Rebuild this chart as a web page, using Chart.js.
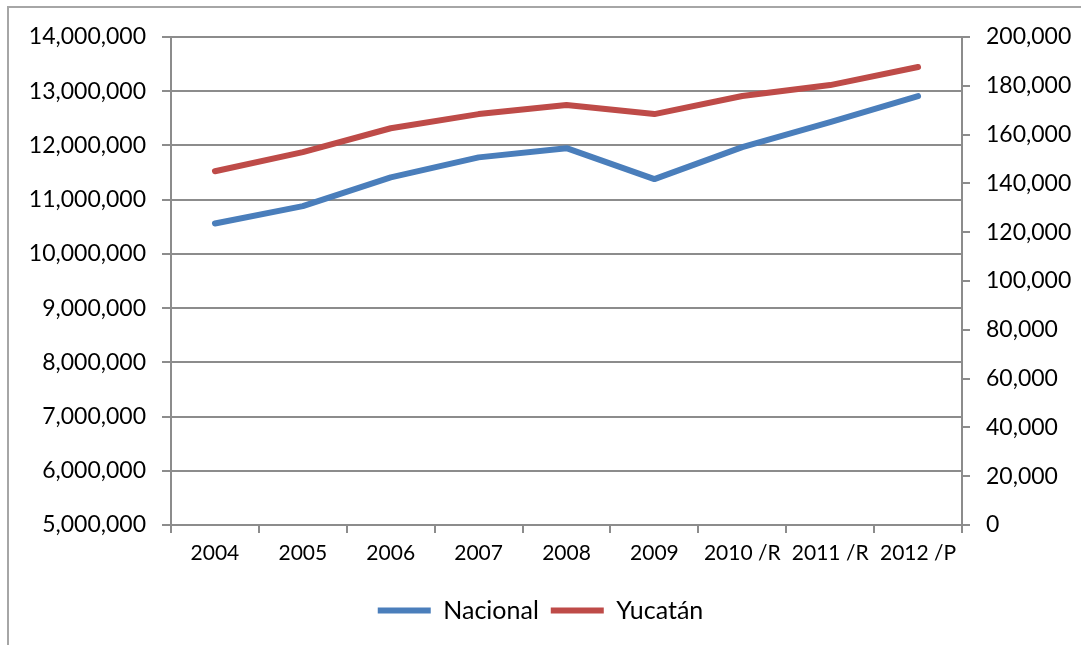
<!DOCTYPE html>
<html>
<head>
<meta charset="utf-8">
<script src="https://cdn.jsdelivr.net/npm/chart.js@4.4.1/dist/chart.umd.min.js"></script>
<style>
  html, body { margin: 0; padding: 0; background: #fff; overflow: hidden; }
  #frame { position: absolute; left: 7px; top: 6px; width: 1100px; height: 660px; border: 2px solid #a6a6a6; box-sizing: border-box; }
  #chart { position: absolute; left: 0; top: 0; }
</style>
</head>
<body>
<div id="frame"></div>
<canvas id="chart" width="1081" height="645"></canvas>
<script>
  // Categories and series
  const years = ['2004', '2005', '2006', '2007', '2008', '2009', '2010 /R', '2011 /R', '2012 /P'];
  const nacional = [10560000, 10880000, 11410000, 11780000, 11950000, 11380000, 11970000, 12430000, 12910000];
  const yucatan = [145000, 152800, 162600, 168400, 172100, 168400, 175800, 180300, 187700];

  // Axis ranges
  const leftAxis = { min: 5000000, max: 14000000, step: 1000000 };
  const rightAxis = { min: 0, max: 200000, step: 20000 };

  const gridColor = '#8c8c8c';
  const fontFamily = 'Lato, "Open Sans", sans-serif';

  function formatNumber(v) {
    return Number(v).toLocaleString('en-US');
  }

  document.addEventListener('DOMContentLoaded', function() {
    const ctx = document.getElementById('chart').getContext('2d');

    new Chart(ctx, {
      type: 'line',
      data: {
        labels: years,
        datasets: [
          {
            label: 'Nacional',
            data: nacional,
            yAxisID: 'y',
            borderColor: '#4a7ebb',
            backgroundColor: '#4a7ebb',
            borderWidth: 6,
            pointRadius: 0,
            tension: 0,
            borderCapStyle: 'round',
            borderJoinStyle: 'round'
          },
          {
            label: 'Yucatán',
            data: yucatan,
            yAxisID: 'y2',
            borderColor: '#be4b48',
            backgroundColor: '#be4b48',
            borderWidth: 6,
            pointRadius: 0,
            tension: 0,
            borderCapStyle: 'round',
            borderJoinStyle: 'round'
          }
        ]
      },
      options: {
        responsive: false,
        animation: false,
        layout: {
          padding: { top: 37, bottom: 12, left: 0, right: 0 }
        },
        plugins: {
          legend: {
            position: 'bottom',
            labels: {
              usePointStyle: true,
              pointStyle: 'line',
              pointStyleWidth: 53,
              color: '#000',
              padding: 12,
              font: { family: fontFamily, size: 25 }
            }
          },
          tooltip: { enabled: false }
        },
        scales: {
          x: {
            offset: true,
            grid: {
              offset: true,
              drawOnChartArea: false,
              color: gridColor,
              lineWidth: 2,
              tickLength: 8
            },
            border: { color: gridColor, width: 2 },
            ticks: {
              color: '#000',
              padding: 8,
              maxRotation: 0,
              autoSkip: false,
              font: { family: fontFamily, size: 21 }
            },
            afterFit: function(scale) { scale.height = 61; }
          },
          y: {
            position: 'left',
            min: leftAxis.min,
            max: leftAxis.max,
            grid: {
              color: gridColor,
              lineWidth: 2,
              tickLength: 9
            },
            border: { color: gridColor, width: 2 },
            ticks: {
              stepSize: leftAxis.step,
              color: '#000',
              padding: 16,
              font: { family: fontFamily, size: 23 },
              callback: formatNumber
            },
            afterFit: function(scale) { scale.width = 171; }
          },
          y2: {
            position: 'right',
            min: rightAxis.min,
            max: rightAxis.max,
            grid: {
              drawOnChartArea: false,
              color: gridColor,
              lineWidth: 2,
              tickLength: 8
            },
            border: { color: gridColor, width: 2 },
            ticks: {
              stepSize: rightAxis.step,
              color: '#000',
              padding: 16,
              font: { family: fontFamily, size: 23 },
              callback: formatNumber
            },
            afterFit: function(scale) { scale.width = 119; }
          }
        }
      }
    });
  });
</script>
</body>
</html>
